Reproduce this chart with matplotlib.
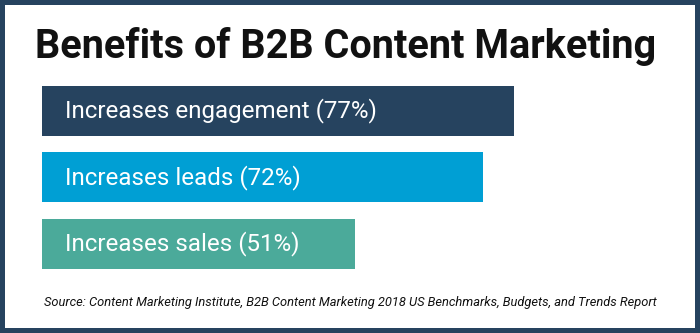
import matplotlib
matplotlib.use("Agg")
import matplotlib.pyplot as plt
from matplotlib.patches import Rectangle

# Benefit categories and survey shares (%)
benefits = ["Increases engagement", "Increases leads", "Increases sales"]
shares = [77, 72, 51]
bar_colors = ["#26435f", "#009fd4", "#4baa9a"]

title = "Benefits of B2B Content Marketing"
source = ("Source: Content Marketing Institute, B2B Content Marketing 2018 US "
          "Benchmarks, Budgets, and Trends Report")

W, H, DPI = 700, 333, 100
fig = plt.figure(figsize=(W / DPI, H / DPI), dpi=DPI)
fig.patch.set_facecolor("white")

# Bar area
ax = fig.add_axes([42 / W, 1 - 277.3 / H, 613 / W, 200 / H])
ax.barh(range(len(benefits)), shares, height=0.75, color=bar_colors)
ax.set_xlim(0, 100)
ax.set_ylim(len(benefits) - 0.5, -0.5)
ax.axis("off")

for i, (name, val) in enumerate(zip(benefits, shares)):
    ax.annotate(f"{name} ({val}%)", xy=(0, i), xytext=(16.5, 0),
                textcoords="offset points", ha="left", va="center",
                color="white", fontsize=17.4, family="Roboto")

fig.text(346 / W, 1 - 46 / H, title, ha="center", va="center",
         fontsize=28.5, fontweight="bold", family="Roboto", color="#111111")
fig.text(44 / W, 1 - 302.5 / H, source, ha="left", va="center",
         fontsize=9.25, style="italic", family="Roboto", color="#111111")

# Frame around the whole graphic
fig.patches.append(Rectangle((0, 0), 1, 1, transform=fig.transFigure,
                             fill=False, lw=7.2, ec="#26435f"))

fig.savefig("out.png", dpi=DPI)
